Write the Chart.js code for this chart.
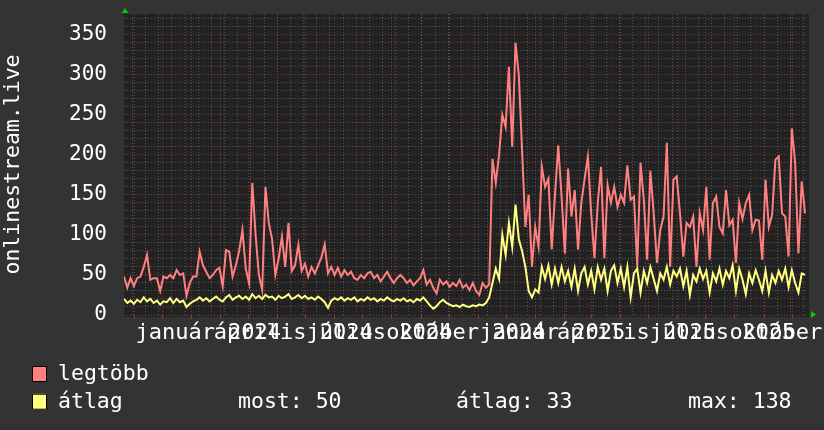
<!DOCTYPE html>
<html>
<head>
<meta charset="utf-8">
<script src="https://cdn.jsdelivr.net/npm/chart.js@4.4.1/dist/chart.umd.min.js"></script>
<style>
  html, body { margin: 0; padding: 0; background: #333333; }
  canvas { display: block; }
</style>
</head>
<body>
<canvas id="rrdChart" width="824" height="430"></canvas>
<script>
const DAY = 86400000;
const startDate = Date.UTC(2023, 9, 21);
const endDate = Date.UTC(2025, 9, 17, 16);
const stepDays = 3.5;

// legtöbb (max) per 3.5 days
const legtobb = [
    48, 34, 46, 36, 46, 48, 60, 75, 44, 46,
    46, 30, 48, 46, 50, 46, 56, 50, 52, 24,
    40, 48, 48, 79, 62, 54, 46, 50, 56, 59,
    36, 81, 79, 48, 62, 80, 106, 58, 40, 165,
    100, 50, 31, 160, 115, 95, 50, 70, 98, 60,
    115, 55, 62, 88, 55, 64, 48, 60, 52, 62,
    72, 88, 52, 60, 50, 59, 48, 56, 50, 54,
    46, 44, 50, 46, 52, 54, 46, 50, 42, 48,
    54, 46, 40, 46, 50, 46, 40, 44, 37, 42,
    46, 56, 38, 44, 34, 27, 44, 38, 42, 35,
    40, 36, 44, 34, 38, 31, 40, 30, 25, 40,
    34, 38, 195, 165, 200, 250, 235, 310, 210, 340,
    300, 205, 110, 150, 60, 110, 85, 185, 160, 170,
    82, 150, 212, 148, 77, 183, 123, 156, 82, 140,
    170, 198, 127, 71, 140, 185, 71, 162, 140, 160,
    135, 150, 140, 187, 144, 148, 60, 190, 144, 69,
    180, 127, 65, 106, 123, 215, 60, 169, 173, 127,
    73, 115, 110, 123, 60, 127, 106, 160, 69, 140,
    148, 110, 102, 156, 112, 119, 65, 140, 120, 140,
    150, 106, 119, 118, 69, 169, 110, 125, 194, 198,
    127, 123, 73, 233, 190, 77, 167, 127
];

// átlag (average) per 3.5 days
const atlag = [
    20, 15, 18, 14, 19, 16, 22, 17, 20, 15,
    18, 13, 17, 16, 21, 15, 20, 16, 18, 10,
    14, 17, 19, 22, 18, 21, 17, 20, 23, 19,
    17, 22, 25, 19, 22, 24, 20, 23, 19, 26,
    21, 24, 20, 25, 22, 23, 19, 24, 21, 23,
    26, 20, 22, 25, 21, 24, 20, 22, 19, 23,
    20, 16, 9, 18, 21, 19, 22, 18, 21, 19,
    22, 17, 20, 18, 22, 19, 21, 17, 20, 18,
    22, 19, 17, 20, 18, 21, 17, 19, 16, 20,
    18, 22, 17, 12, 8, 11, 16, 19, 15, 13,
    11, 12, 10, 13, 11, 10, 12, 11, 13, 12,
    15, 22, 40, 58, 45, 100, 75, 115, 85, 138,
    95, 80, 60, 30, 22, 32, 28, 60, 45, 62,
    38, 58, 40, 60, 42, 55, 35, 58, 30, 52,
    60, 38, 55, 32, 60, 44, 58, 30, 55, 62,
    40, 58, 35, 60, 22, 52, 58, 28, 55, 40,
    60, 45, 30, 52, 44, 60, 38, 55, 48, 58,
    36, 55, 25, 50, 42, 58, 45, 55, 28, 52,
    42, 58, 38, 55, 46, 62, 30, 58, 44, 26,
    52, 40, 56, 44, 30, 55, 28, 50, 40, 55,
    44, 58, 35, 56, 40, 28, 52, 50
];

const seriesNames = ['legtöbb', 'átlag'];
const seriesColors = ['#ff8080', '#ffff80'];
const gprintLabels = ['most: 50', 'átlag: 33', 'max: 138'];
const quarterLabels = ['január 2024', 'április 2024', 'július 2024', 'október 2024',
                       'január 2025', 'április 2025', 'július 2025', 'október 2025'];
const quarterMonths = [[2024, 0], [2024, 3], [2024, 6], [2024, 9],
                       [2025, 0], [2025, 3], [2025, 6], [2025, 9]];

const monoFont = '"DejaVu Sans Mono", monospace';
const textColor = '#ffffff';
const minorGridColor = 'rgba(150,150,150,0.45)';
const majorGridColor = 'rgba(190,70,70,0.6)';

// month lines (major) and every other Monday (minor)
const xTicks = [];
for (let t = Date.UTC(2023, 9, 30); t <= endDate; t += 14 * DAY) {
    xTicks.push({ value: t, major: false });
}
for (let m = 10; Date.UTC(2023, m, 1) <= endDate; m++) {
    xTicks.push({ value: Date.UTC(2023, m, 1), major: true });
}
xTicks.sort((a, b) => a.value - b.value);

const yTicks = [];
for (let v = 0; v <= 370; v += 10) yTicks.push({ value: v });

function toPoints(values) {
    return values.map((v, i) => ({ x: startDate + i * stepDays * DAY, y: v }));
}

const rrdDecor = {
    id: 'rrdDecor',
    beforeDraw(chart) {
        const { ctx, chartArea: a } = chart;
        ctx.save();
        ctx.fillStyle = '#333333';
        ctx.fillRect(0, 0, chart.width, chart.height);
        ctx.fillStyle = '#222222';
        ctx.fillRect(a.left, a.top, a.right - a.left + 1, a.bottom - a.top + 2);
        ctx.restore();
    },
    afterDraw(chart) {
        const { ctx, chartArea: a, scales } = chart;
        ctx.save();

        // x labels, centred on the month
        ctx.fillStyle = textColor;
        ctx.font = '22px ' + monoFont;
        ctx.textAlign = 'center';
        ctx.textBaseline = 'alphabetic';
        quarterMonths.forEach(([yy, mm], i) => {
            const mid = (Date.UTC(yy, mm, 1) + Date.UTC(yy, mm + 1, 1)) / 2;
            ctx.fillText(quarterLabels[i], scales.x.getPixelForValue(mid) + 2, 339);
        });

        // legend
        ctx.textAlign = 'left';
        ctx.font = '21.5px ' + monoFont;
        seriesNames.forEach((name, i) => {
            const top = 366 + i * 27.7;
            ctx.fillStyle = seriesColors[i];
            ctx.fillRect(32, top, 15, 16);
            ctx.strokeStyle = '#000000';
            ctx.lineWidth = 1;
            ctx.strokeRect(32.5, top + 0.5, 14, 15);
            ctx.fillStyle = textColor;
            ctx.fillText(name, 58, top + 14);
        });
        const gx = [238, 456, 688];
        gprintLabels.forEach((s, i) => ctx.fillText(s, gx[i], 366 + 27.7 + 14));

        // axis arrows
        ctx.fillStyle = '#00cc00';
        ctx.beginPath();
        ctx.moveTo(a.left + 1, a.top - 6);
        ctx.lineTo(a.left - 2.5, a.top - 1);
        ctx.lineTo(a.left + 4.5, a.top - 1);
        ctx.closePath();
        ctx.fill();
        ctx.beginPath();
        ctx.moveTo(a.right + 8, a.bottom - 0.5);
        ctx.lineTo(a.right + 3, a.bottom - 4);
        ctx.lineTo(a.right + 3, a.bottom + 3);
        ctx.closePath();
        ctx.fill();
        ctx.restore();
    }
};

const chart = new Chart(document.getElementById('rrdChart'), {
    type: 'line',
    data: {
        datasets: [
            {
                label: seriesNames[1],
                data: toPoints(atlag),
                borderColor: seriesColors[1],
                borderWidth: 2,
                pointRadius: 0,
                tension: 0,
                order: 0
            },
            {
                label: seriesNames[0],
                data: toPoints(legtobb),
                borderColor: seriesColors[0],
                borderWidth: 2,
                pointRadius: 0,
                tension: 0,
                order: 1
            }
        ]
    },
    options: {
        responsive: false,
        animation: false,
        devicePixelRatio: 1,
        layout: {
            padding: { top: 14, right: 16, left: 0, bottom: 0 }
        },
        plugins: {
            legend: { display: false },
            tooltip: { enabled: false }
        },
        scales: {
            x: {
                type: 'linear',
                min: startDate,
                max: endDate,
                afterBuildTicks: (scale) => { scale.ticks = xTicks.map(t => ({ value: t.value, major: t.major })); },
                afterFit: (scale) => { scale.height = 115; },
                ticks: { display: false, autoSkip: false },
                grid: {
                    color: (c) => c.tick && c.tick.major ? majorGridColor : minorGridColor,
                    tickColor: (c) => c.tick && c.tick.major ? majorGridColor : 'rgba(0,0,0,0)',
                    lineWidth: 1,
                    drawTicks: true,
                    tickLength: 4,
                    tickBorderDash: []
                },
                border: { display: false, dash: [1, 2] }
            },
            y: {
                type: 'linear',
                min: 0,
                max: 376,
                afterBuildTicks: (scale) => { scale.ticks = yTicks.map(t => ({ value: t.value })); },
                afterFit: (scale) => { scale.width = 124; },
                ticks: {
                    autoSkip: false,
                    color: textColor,
                    padding: 0,
                    font: { family: monoFont, size: 21 },
                    callback: (v) => v % 50 === 0 ? String(v) : ''
                },
                grid: {
                    color: (c) => c.tick && c.tick.value % 50 === 0 ? majorGridColor : minorGridColor,
                    lineWidth: 1,
                    drawTicks: true,
                    tickLength: 17,
                    tickColor: 'rgba(0,0,0,0)'
                },
                border: { display: false, dash: [1, 2] },
                title: {
                    display: true,
                    text: 'onlinestream.live',
                    color: textColor,
                    font: { family: monoFont, size: 21.5 },
                    padding: { top: 1, bottom: 0 }
                }
            }
        }
    },
    plugins: [rrdDecor]
});
</script>
</body>
</html>
